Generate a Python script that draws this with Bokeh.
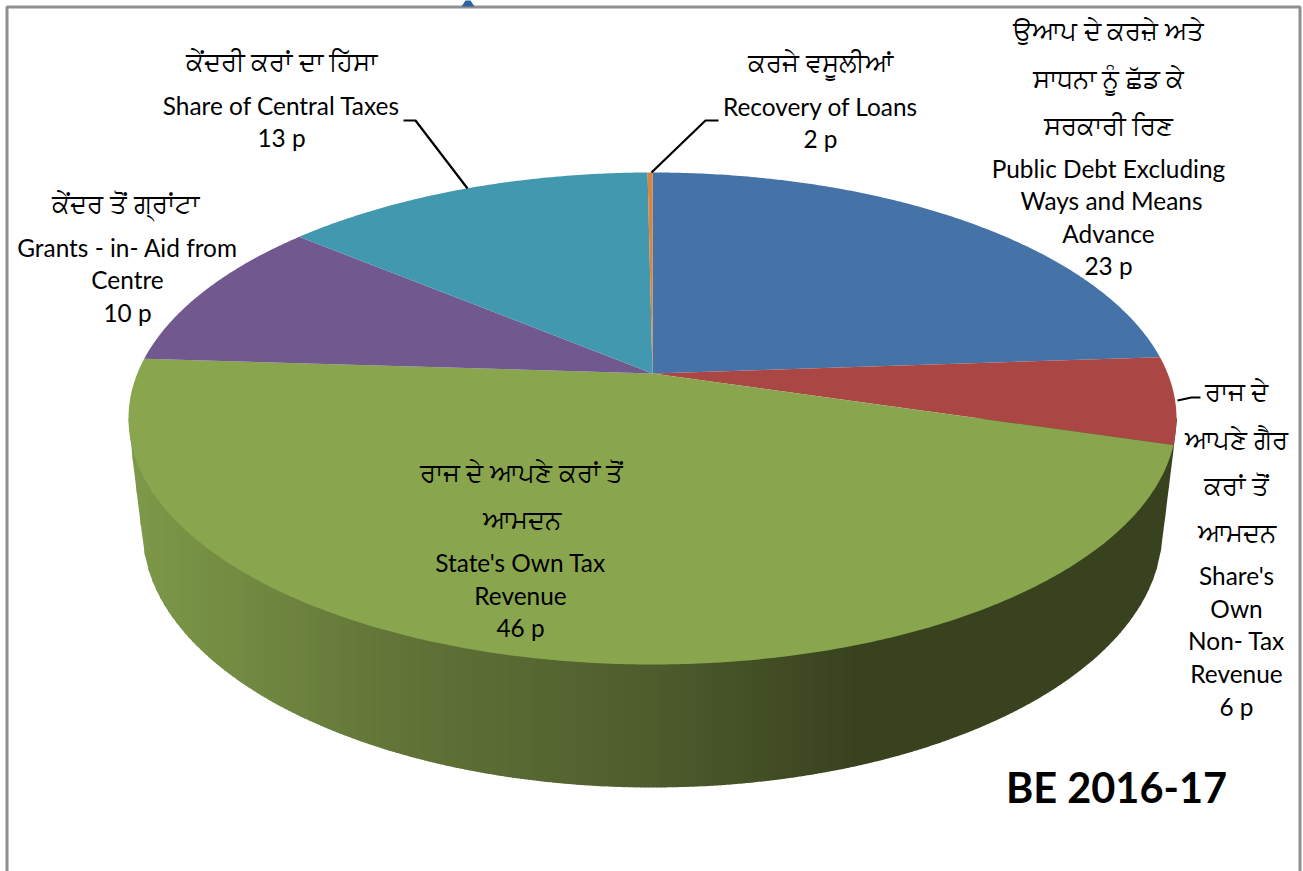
import numpy as np
from bokeh.plotting import figure
from bokeh.models import ColumnDataSource, Range1d
from bokeh.core.properties import value
from bokeh.embed import file_html
from bokeh.resources import INLINE

# ---- data ----
slice_names = ["Public Debt", "Non-Tax Revenue", "State's Own Tax", "Grants-in-Aid", "Central Taxes", "Recovery of Loans"]
slice_shares = [23.9, 5.7, 46.4, 10.1, 13.72, 0.18]   # drawn sizes of the slices, clockwise from the top
slice_colors = ["#4572A7", "#AA4643", "#89A54E", "#71588F", "#4198AF", "#DB843D"]

pa_lines = ["ਕੇਂਦਰੀ ਕਰਾਂ ਦਾ ਹਿੱਸਾ", "ਕਰਜੇ ਵਸੂਲੀਆਂ", "ਉਆਪ ਦੇ ਕਰਜ਼ੇ ਅਤੇ", "ਸਾਧਨਾ ਨੂੰ ਛੱਡ ਕੇ", "ਸਰਕਾਰੀ ਰਿਣ",
            "ਕੇਂਦਰ ਤੋਂ ਗ੍ਰਾਂਟਾ", "ਰਾਜ ਦੇ", "ਆਪਣੇ ਗੈਰ", "ਕਰਾਂ ਤੋਂ", "ਆਮਦਨ", "ਰਾਜ ਦੇ ਆਪਣੇ ਕਰਾਂ ਤੋਂ", "ਆਮਦਨ"]
pa_x = [281, 820, 1108, 1108, 1108, 125, 1236, 1236, 1236, 1236, 521, 521]
pa_y = [60, 61, 29, 77, 124, 202, 390, 438, 484, 531, 471, 518]

en_lines = ["Share of Central Taxes", "13 p", "Recovery of Loans", "2 p",
            "Public Debt Excluding", "Ways and Means", "Advance", "23 p",
            "Grants - in- Aid from", "Centre", "10 p",
            "State's Own Tax", "Revenue", "46 p",
            "Share's", "Own", "Non- Tax", "Revenue", "6 p"]
en_x = [281, 281, 820, 820, 1108, 1111, 1108, 1108, 127, 127, 127, 520, 520, 520, 1236, 1236, 1236, 1236, 1236]
en_y = [105, 137, 106, 138, 168, 200, 233, 265, 247, 279, 312, 562, 595, 627, 575, 608, 640, 673, 706]

leader_xs = [[403, 415, 467], [651, 705, 718], [1177, 1191, 1200]]
leader_ys = [[120, 120, 188], [172, 120, 120], [400, 397, 397]]

title_text = "BE 2016-17"

# ---- pie geometry on screen ----
CX, CY, RX, RY = 652.0, 418.0, 524.0, 246.0      # top face ellipse
BCY, BRX, BRY = 530.0, 510.0, 257.0              # bottom rim ellipse
BETA = 0.183                                     # perspective shift of the apex


def rim(frac):
    """Position on the top ellipse for a pie fraction measured clockwise from the top."""
    a = 2 * np.pi * np.asarray(frac)
    c = (np.cos(a) + BETA) / (1 + BETA * np.cos(a))
    s = np.sin(a) * np.sqrt(1 - BETA ** 2) / (1 + BETA * np.cos(a))
    return CX + RX * s, CY - RY * c


def lower_hull(pts):
    pts = sorted(pts)
    hull = []
    for p_ in pts:
        while len(hull) >= 2:
            (x1, y1), (x2, y2) = hull[-2], hull[-1]
            if (x2 - x1) * (p_[1] - y1) - (y2 - y1) * (p_[0] - x1) >= 0:
                hull.pop()
            else:
                break
        hull.append(p_)
    return np.array(hull)


p = figure(width=1311, height=879, output_backend="svg", toolbar_location=None,
           x_range=Range1d(-8, 1303), y_range=Range1d(871, -8),
           min_border=0, outline_line_color=None, background_fill_color="white",
           border_fill_color="white")
p.margin = (-8, 0, 0, -8)
p.axis.visible = False
p.grid.visible = False
p.xaxis.visible = False
p.yaxis.visible = False

# frame and the clipped shape above it
p.line([6.5, 6.5, 1299.5, 1299.5], [871, 6.5, 6.5, 871], line_color="#8f8f8f", line_width=3)
p.patch([461, 465, 470, 474], [6, 0, 0, 6], fill_color="#2E62A0", line_color=None)

# side wall as vertical colour strips
t = np.linspace(0, 2 * np.pi, 721)
pts = [(CX + RX * np.sin(a), CY + RY * np.cos(a)) for a in t] + \
      [(CX + BRX * np.sin(a), BCY + BRY * np.cos(a)) for a in t]
hull = lower_hull(pts)
stops_x = [128, 400, 650, 860, 1176]
stops_r = [0x7E, 0x62, 0x4F, 0x39, 0x39]
stops_g = [0x9A, 0x74, 0x5D, 0x42, 0x42]
stops_b = [0x49, 0x38, 0x2D, 0x1F, 0x1F]
edges = np.arange(128, 1177, 4.0)
wx, wy, wc = [], [], []
for x0, x1 in zip(edges[:-1], edges[1:]):
    xa = np.array([x0, x1 + 0.6])
    yb = np.interp(xa, hull[:, 0], hull[:, 1])
    xm = (x0 + x1) / 2
    col = "#%02x%02x%02x" % (int(np.interp(xm, stops_x, stops_r)),
                             int(np.interp(xm, stops_x, stops_g)),
                             int(np.interp(xm, stops_x, stops_b)))
    wx.append([xa[0], xa[1], xa[1], xa[0]])
    wy.append([CY, CY, yb[1], yb[0]])
    wc.append(col)
p.patches(wx, wy, fill_color=wc, line_color=None)

# top face
edges_f = np.concatenate([[0], np.cumsum(slice_shares)]) / sum(slice_shares)
apex_x, apex_y = CX, CY - BETA * RY
xs, ys = [], []
for a0, a1 in zip(edges_f[:-1], edges_f[1:]):
    f = np.linspace(a0, a1, max(3, int((a1 - a0) * 720)))
    ax, ay = rim(f)
    xs.append([float(apex_x)] + ax.tolist())
    ys.append([float(apex_y)] + ay.tolist())
src = ColumnDataSource(dict(xs=xs, ys=ys, color=slice_colors, name=slice_names))
p.patches("xs", "ys", source=src, fill_color="color", line_color=None)

# leader lines
p.multi_line(leader_xs, leader_ys, line_color="black", line_width=2.2)

# labels
p.text(pa_x, pa_y, text=pa_lines, text_font=value("Lato"), text_font_size="26px",
       text_align="center", text_baseline="middle", text_color="black")
p.text(en_x, en_y, text=en_lines, text_font=value("Lato"), text_font_size="24.4px",
       text_align="center", text_baseline="middle", text_color="black")
p.text([1116], [786], text=[title_text], text_font=value("Lato"), text_font_size="41.5px",
       text_font_style="bold", text_align="center", text_baseline="middle", text_color="black")

open("out.html", "w").write(file_html(p, INLINE))
